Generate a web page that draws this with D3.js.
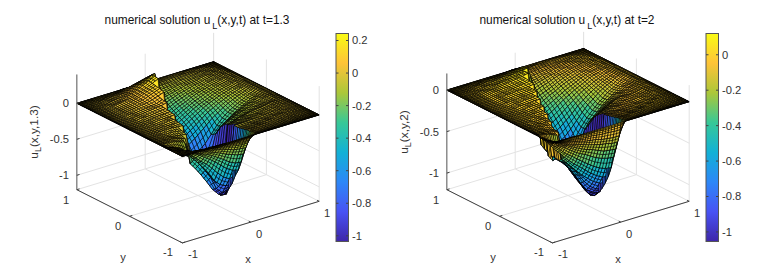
<!DOCTYPE html>
<html>
<head>
<meta charset="utf-8">
<script src="https://cdn.jsdelivr.net/npm/d3@7"></script>
<style>
html,body{margin:0;padding:0;background:#fff;}
text{font-family:"Liberation Sans",Arial,sans-serif;}
</style>
</head>
<body>
<svg id="chart" width="775" height="270"></svg>
<script>
// mesh nodes, shared by x and y
var nodes=[-1,-.996,-.985,-.966,-.94,-.906,-.866,-.819,-.766,-.707,-.643,-.574,-.5,-.423,-.342,-.259,-.174,-.087,0,.087,.174,.259,.342,.423,.5,.574,.643,.707,.766,.819,.866,.906,.94,.966,.985,.996,1];

// surface heights x100. one row per y node, trailing zeros left out
var heightsA=[
[],
[0,0,0,0,0,0,0,0,0,0,0,0,0,0,-1,-1,-1,-1,-1],
[0,0,0,0,0,0,0,0,0,0,0,0,-1,-2,-2,-2,-3,-3,-3],
[0,0,0,0,0,0,0,0,-1,-1,-2,-2,-3,-4,-4,-5,-6,-7,-7],
[0,0,0,0,0,0,-1,-1,-2,-2,-3,-4,-5,-6,-8,-9,-11,-12,-12],
[0,0,0,0,0,-1,-1,-2,-3,-4,-5,-7,-9,-10,-13,-15,-18,-19,-20],
[0,0,0,0,-1,-1,-2,-3,-5,-6,-8,-10,-13,-16,-19,-23,-26,-29,-30,-1],
[0,0,0,0,-1,-2,-3,-4,-6,-9,-12,-15,-18,-22,-27,-32,-38,-42,-43,-1,-1],
[0,0,0,-1,-1,-2,-4,-6,-8,-11,-15,-19,-24,-29,-35,-42,-49,-54,-56,-2,-2,-1,-1],
[0,0,0,-1,-1,-2,-4,-6,-9,-14,-19,-25,-32,-38,-46,-55,-63,-68,-66,-3,-3,-2,-2,-1,-1],
[0,0,0,-1,-2,-3,-4,-6,-8,-12,-20,-28,-36,-45,-55,-68,-76,-80,-80,-4,-4,-3,-3,-2,-2,-1,-1,-1],
[0,0,0,0,0,0,-1,-1,-2,-4,-6,-26,-34,-43,-54,-66,-84,-92,-90,-4,-4,-4,-3,-3,-2,-2,-1,-1,-1],
[0,0,0,0,0,0,0,-1,-1,-2,-4,-6,-43,-52,-63,-75,-88,-97,-100,-90,-7,-6,-5,-4,-3,-3,-2,-1,-1,-1],
[0,0,0,0,0,0,0,-1,-1,-2,-3,-4,-5,-42,-50,-58,-71,-87,-104,-105,-10,-8,-7,-6,-5,-4,-3,-2,-1,-1,-1],
[0,0,0,0,0,0,0,0,-1,-1,-1,-2,-3,-37,-45,-55,-67,-79,-97,-104,-14,-12,-9,-8,-6,-5,-4,-3,-2,-1,-1,-1],
[0,0,0,0,0,0,0,0,0,0,0,0,-1,-1,-43,-52,-62,-74,-86,-100,-95,-18,-15,-12,-10,-8,-6,-5,-4,-3,-2,-1,-1],
[0,0,0,0,0,0,0,0,0,0,0,0,0,0,-42,-50,-60,-69,-81,-95,-93,-22,-18,-15,-12,-10,-8,-6,-5,-3,-2,-1,-1,-1],
[0,0,0,0,0,0,0,0,0,0,0,0,1,1,-42,-50,-58,-66,-76,-88,-85,-29,-24,-20,-16,-13,-10,-8,-6,-4,-3,-2,-1,-1],
[0,0,0,0,0,0,0,0,0,0,0,1,1,1,2,-48,-56,-64,-72,-76,-74,-42,-34,-28,-22,-18,-14,-11,-8,-6,-4,-2,-1,-1],
[0,0,0,0,0,0,0,0,0,0,0,1,2,2,3,-52,-60,-66,-68,-63,-56,-46,-36,-28,-22,-18,-14,-11,-8,-6,-4,-2,-1,-1],
[0,0,0,0,0,0,0,0,0,1,1,1,2,3,4,-56,-62,-62,-56,-50,-43,-36,-29,-24,-19,-15,-12,-9,-7,-5,-3,-2,-1,-1],
[0,0,0,0,0,0,0,0,0,1,1,2,3,4,5,7,-58,-54,-48,-42,-36,-30,-24,-20,-16,-13,-10,-8,-6,-4,-3,-2,-1,-1],
[0,0,0,0,0,0,0,0,1,1,1,2,3,4,5,8,-52,-48,-42,-37,-31,-26,-21,-17,-14,-11,-9,-7,-5,-4,-3,-2,-1,-1],
[0,0,0,0,0,0,0,0,1,1,2,3,4,5,7,10,13,-42,-38,-33,-28,-23,-19,-16,-13,-10,-8,-6,-5,-3,-2,-2,-1],
[0,0,0,0,0,0,0,0,1,1,2,3,5,6,9,12,15,-37,-34,-30,-25,-21,-17,-14,-11,-9,-7,-5,-4,-3,-2,-1,-1],
[0,0,0,0,0,0,0,0,1,1,2,3,5,7,10,13,16,-33,-30,-26,-22,-19,-15,-12,-10,-8,-6,-5,-3,-2,-2,-1,-1],
[0,0,0,0,0,0,0,0,1,2,3,4,5,7,10,13,17,21,-26,-23,-19,-16,-13,-11,-9,-7,-5,-4,-3,-2,-1,-1],
[0,0,0,0,0,0,0,0,1,1,2,3,5,7,10,14,18,22,-21,-19,-16,-13,-11,-9,-7,-6,-4,-3,-2,-2,-1,-1],
[0,0,0,0,0,0,0,0,0,1,2,3,4,6,9,13,16,21,-17,-15,-13,-11,-9,-7,-6,-5,-3,-2,-2,-1,-1],
[0,0,0,0,0,0,0,0,0,1,1,2,4,5,8,11,14,17,19,-12,-11,-9,-7,-6,-5,-4,-3,-2,-1,-1,-1],
[0,0,0,0,0,0,0,0,0,1,1,2,3,4,6,9,11,14,16,-9,-8,-7,-6,-4,-4,-3,-2,-1,-1,-1],
[0,0,0,0,0,0,0,0,0,0,1,1,2,3,5,7,9,11,12,-6,-5,-5,-4,-3,-2,-2,-1,-1,-1],
[0,0,0,0,0,0,0,0,0,0,0,1,1,2,3,4,6,7,8,-4,-3,-3,-2,-2,-1,-1,-1],
[0,0,0,0,0,0,0,0,0,0,0,0,1,1,2,2,3,4,5,-2,-2,-2,-1,-1,-1],
[0,0,0,0,0,0,0,0,0,0,0,0,0,0,1,1,1,2,2,-1,-1,-1],
[0,0,0,0,0,0,0,0,0,0,0,0,0,0,0,0,0,1,1],
[]
];

var heightsB=[
[],
[0,0,0,0,0,0,0,0,0,0,-1,-1,-2,-2,-2,-3,-3,-3,-3],
[0,0,0,0,0,-1,-1,-2,-3,-3,-4,-5,-6,-6,-7,-8,-8,-9,-9],
[0,0,0,-1,-1,-2,-3,-4,-5,-6,-8,-9,-11,-12,-13,-15,-16,-17,-17],
[0,0,0,-1,-2,-3,-4,-6,-8,-10,-12,-14,-16,-18,-20,-22,-23,-25,-25],
[0,0,-1,-1,-2,-4,-6,-8,-11,-13,-16,-19,-22,-25,-27,-30,-33,-34,-35,-1],
[0,0,-1,-2,-3,-5,-7,-11,-14,-17,-21,-25,-29,-32,-36,-40,-43,-45,-46,-1,-1],
[0,-1,-1,-2,-4,-7,-10,-14,-18,-23,-28,-32,-37,-42,-47,-52,-56,-59,-60,-2,-2,-1,-1],
[0,-1,-1,-3,-5,-8,-12,-17,-22,-27,-33,-39,-45,-50,-56,-62,-67,-71,-72,-3,-3,-2,-2,-1,-1],
[0,0,0,-1,-1,-1,-2,-3,-5,-7,-37,-43,-50,-57,-64,-70,-76,-80,-82,-4,-4,-3,-3,-2,-2,-1,-1],
[0,0,0,-1,-1,-1,-2,-2,-4,-5,-7,-40,-48,-56,-66,-76,-84,-89,-91,-5,-5,-4,-4,-3,-2,-2,-1,-1,-1],
[0,0,0,0,-1,-1,-1,-2,-3,-4,-6,-45,-49,-58,-68,-80,-90,-95,-98,-6,-7,-6,-5,-4,-3,-3,-2,-1,-1,-1],
[0,0,0,0,0,-1,-1,-1,-2,-2,-3,-44,-46,-52,-63,-76,-88,-99,-104,-101,-9,-8,-6,-5,-4,-3,-2,-2,-1,-1],
[0,0,0,0,0,0,-1,-1,-1,-2,-2,-3,-45,-52,-62,-72,-83,-97,-106,-106,-12,-10,-8,-7,-5,-4,-3,-2,-2,-1,-1],
[0,0,0,0,0,0,0,0,-1,-1,-1,-2,-50,-52,-54,-66,-80,-91,-104,-104,-16,-13,-11,-9,-7,-5,-4,-3,-2,-1,-1,-1],
[0,0,0,0,0,0,0,0,0,0,-1,-1,-1,-59,-57,-63,-77,-89,-100,-100,-21,-18,-15,-12,-9,-7,-6,-4,-3,-2,-1,-1],
[0,0,0,0,0,0,0,0,0,0,0,0,0,-56,-60,-64,-72,-83,-94,-94,-30,-26,-22,-17,-14,-11,-8,-6,-4,-3,-2,-1,-1],
[0,0,0,0,0,0,0,0,0,0,0,0,1,1,-58,-62,-70,-80,-88,-87,-43,-36,-30,-24,-19,-15,-11,-9,-6,-4,-3,-2,-1,-1],
[0,0,0,0,0,0,0,0,0,0,0,1,1,1,-55,-64,-72,-78,-82,-78,-62,-46,-37,-30,-24,-19,-15,-11,-8,-6,-4,-2,-1,-1],
[0,0,0,0,0,0,0,0,0,0,1,1,1,2,2,-62,-68,-72,-73,-68,-58,-47,-38,-31,-25,-20,-15,-12,-9,-6,-4,-2,-1,-1],
[0,0,0,0,0,0,0,0,0,0,1,1,2,2,3,-58,-62,-64,-62,-57,-50,-42,-34,-27,-22,-17,-13,-10,-8,-5,-3,-2,-1,-1],
[0,0,0,0,0,0,0,0,0,1,1,1,2,2,3,4,-55,-56,-53,-48,-42,-36,-29,-24,-19,-15,-12,-9,-7,-5,-3,-2,-1,-1],
[0,0,0,0,0,0,0,0,0,1,1,1,2,2,3,4,-50,-49,-46,-41,-36,-30,-25,-20,-16,-13,-10,-8,-6,-4,-3,-2,-1,-1],
[0,0,0,0,0,0,0,0,0,1,1,2,2,3,3,4,5,-43,-39,-35,-30,-25,-21,-17,-14,-11,-8,-6,-5,-3,-2,-2,-1],
[0,0,0,0,0,0,0,0,0,1,1,2,2,3,4,5,6,-38,-34,-30,-26,-22,-18,-15,-12,-9,-7,-5,-4,-3,-2,-1,-1],
[0,0,0,0,0,0,0,0,0,1,2,2,3,3,4,5,7,-33,-30,-26,-22,-19,-15,-12,-10,-8,-6,-5,-3,-2,-2,-1,-1],
[0,0,0,0,0,0,0,0,0,1,2,2,3,4,5,6,7,9,-26,-22,-19,-16,-13,-10,-8,-6,-5,-4,-3,-2,-1,-1],
[0,0,0,0,0,0,0,0,0,1,1,2,3,4,5,6,7,9,-21,-18,-15,-13,-10,-8,-7,-5,-4,-3,-2,-2,-1,-1],
[0,0,0,0,0,0,0,0,0,0,1,2,2,3,4,6,7,8,9,-14,-12,-10,-8,-7,-5,-4,-3,-2,-2,-1,-1],
[0,0,0,0,0,0,0,0,0,0,1,1,2,3,4,5,6,7,8,-11,-10,-8,-7,-5,-4,-3,-2,-2,-1,-1],
[0,0,0,0,0,0,0,0,0,0,1,1,2,2,3,4,5,6,7,-8,-7,-6,-5,-4,-3,-2,-2,-1,-1],
[0,0,0,0,0,0,0,0,0,0,0,1,1,2,2,3,4,4,5,-6,-5,-4,-3,-3,-2,-2,-1,-1],
[0,0,0,0,0,0,0,0,0,0,0,0,1,1,1,2,2,3,3,-4,-3,-3,-2,-2,-1,-1],
[0,0,0,0,0,0,0,0,0,0,0,0,0,0,1,1,1,2,2,-2,-2,-1,-1,-1],
[0,0,0,0,0,0,0,0,0,0,0,0,0,0,0,0,0,1,1,-1,-1,-1],
[],
[]
];

// axes
var xyTicks=[-1,0,1];
var zTicksA=[-1,-.5,0];
var zTicksB=[-1,-.5,0];
var barTicksA=[.2,0,-.2,-.4,-.6,-.8,-1];
var barTicksB=[0,-.2,-.4,-.6,-.8,-1];
var parula=["#3e26a8","#4852f4","#2d87f7","#12b1d6","#37c897","#abc739","#fec338","#f9fb14"];

var svg=d3.select("#chart");
var defs=svg.append("defs");
var grad=defs.append("linearGradient").attr("id","parula").attr("x1",0).attr("x2",0).attr("y1",1).attr("y2",0);
parula.forEach(function(c,i) {grad.append("stop").attr("offset",i/(parula.length-1)).attr("stop-color",c);});

function panel(o) {
	var g=svg.append("g");
	var heights=o.heights.map(function(r) {return nodes.map(function(n,i) {return (r[i]||0)/100;});});

	// oblique view: the three axes each shift the picture by their own scale
	var xToPx=d3.scaleLinear().domain([-1,1]).range([-68.4,68.4]);
	var xToPy=d3.scaleLinear().domain([-1,1]).range([20.8,-20.8]);
	var yToPx=d3.scaleLinear().domain([-1,1]).range([52.8,-52.8]);
	var yToPy=d3.scaleLinear().domain([-1,1]).range([26.6,-26.6]);
	var zToPy=d3.scaleLinear().domain(o.zDomain).range(o.zRange);
	function P(x,y,z) {return [o.cx+xToPx(x)+yToPx(y),xToPy(x)+yToPy(y)+zToPy(z)];}
	function depth(x,y,z) {return 3816*x+4896*y-2949*z;}
	function line3(a,b,col,w) {
		var p=P.apply(null,a),q=P.apply(null,b);
		g.append("line").attr("x1",p[0]).attr("y1",p[1]).attr("x2",q[0]).attr("y2",q[1])
			.style("stroke",col).style("stroke-width",w);
	}

	var z0=o.zDomain[0],z1=o.zDomain[1];
	var grid="#e3e3e3";

	// back walls and floor
	xyTicks.forEach(function(t) {
		line3([t,1,z0],[t,1,z1],grid,1);
		line3([1,t,z0],[1,t,z1],grid,1);
		line3([t,-1,z0],[t,1,z0],grid,1);
		line3([-1,t,z0],[1,t,z0],grid,1);
	});
	o.zTicks.forEach(function(t) {
		line3([-1,1,t],[1,1,t],grid,1);
		line3([1,1,t],[1,-1,t],grid,1);
	});

	// surface, far quads first
	var quads=[];
	d3.range(nodes.length-1).forEach(function(j) {
		d3.range(nodes.length-1).forEach(function(i) {
			var c=[[i,j],[i+1,j],[i+1,j+1],[i,j+1]].map(function(k) {return [nodes[k[0]],nodes[k[1]],heights[k[1]][k[0]]];});
			quads.push({
				pts:c,
				v:heights[j][i],
				d:d3.mean(c,function(p) {return depth(p[0],p[1],p[2]);})
			});
		});
	});
	quads.sort(function(a,b) {return b.d-a.d;});

	var color=d3.scaleLinear()
		.domain(parula.map(function(c,i) {return o.clim[0]+(o.clim[1]-o.clim[0])*i/(parula.length-1);}))
		.range(parula).clamp(true);

	// the reference mesh is finer than the nodes read here, so each face gets its cross lines too
	function quadPath(q) {
		var s=q.pts.map(function(p) {return P(p[0],p[1],p[2]);});
		function mid(a,b) {return [(s[a][0]+s[b][0])/2,(s[a][1]+s[b][1])/2].join(",");}
		var d="M"+s.map(function(p) {return p.join(",");}).join("L")+"Z";
		d+="M"+mid(0,3)+"L"+mid(1,2);
		if(Math.abs(q.pts[0][2]-q.pts[1][2])<.25) {d+="M"+mid(0,1)+"L"+mid(3,2);}
		return d;
	}

	g.selectAll(".quad").data(quads).enter().append("path")
		.attr("d",quadPath)
		.style("fill",function(q) {return color(q.v);})
		.style("stroke","#000")
		.style("stroke-width",.7);

	// dark axes
	var ax="#404040";
	line3([-1,1,z0],[-1,1,z1],"#777",1.2);
	line3([-1,1,z0],[-1,-1,z0],ax,1);
	line3([-1,-1,z0],[1,-1,z0],ax,1);
	xyTicks.forEach(function(t) {
		line3([t,-1,z0],[t,-.96,z0],ax,1);
		line3([-1,t,z0],[-.96,t,z0],ax,1);
	});
	o.zTicks.forEach(function(t) {line3([-1,1,t],[-.96,1,t],ax,1);});

	function label(x,y,s,anchor) {
		return g.append("text").attr("x",x).attr("y",y).attr("text-anchor",anchor||"middle")
			.style("font-size","11.2px").style("fill","#333").text(s);
	}

	// tick labels
	o.zTicks.forEach(function(t) {label(o.zLabelX,zToPy(t)+xToPy(-1)+yToPy(1)+4,t==0?"0":String(t),"end");});
	xyTicks.forEach(function(t,i) {
		label(o.xTickX[i],o.xTickY[i],String(t));
		label(o.yTickX[i],o.yTickY[i],String(t));
	});
	label(o.xName[0],o.xName[1],"x");
	label(o.yName[0],o.yName[1],"y");

	// z label, L goes low
	var zl=g.append("text").attr("transform","translate("+o.zName[0]+","+o.zName[1]+") rotate(-90)")
		.attr("text-anchor","middle").style("font-size","11.8px").style("fill","#333");
	zl.append("tspan").text("u");
	zl.append("tspan").attr("dy",3).style("font-size","9px").text("L");
	zl.append("tspan").attr("dy",-3).text(o.zText);

	// title
	var tt=g.append("text").attr("x",o.titleX).attr("y",24).attr("text-anchor","middle")
		.style("font-size","11.9px").style("fill","#111");
	tt.append("tspan").text("numerical solution u");
	tt.append("tspan").attr("dx",2).attr("dy",5).style("font-size","9px").text("L");
	tt.append("tspan").attr("dy",-5).text(o.titleEnd);

	// colorbar
	var barY=d3.scaleLinear().domain(o.clim).range([241.5,33.5]);
	g.append("rect").attr("x",o.barX).attr("y",33.5).attr("width",12.5).attr("height",208)
		.style("fill","url(#parula)").style("stroke","#555").style("stroke-width",1);
	o.barTicks.forEach(function(t) {
		var y=barY(t);
		g.append("line").attr("x1",o.barX).attr("x2",o.barX+2.5).attr("y1",y).attr("y2",y).style("stroke","#444");
		g.append("line").attr("x1",o.barX+10).attr("x2",o.barX+12.5).attr("y1",y).attr("y2",y).style("stroke","#444");
		label(o.barX+16,y+4,t==0?"0":String(t),"start");
	});
}

panel({heights:heightsA,cx:198,zDomain:[-1.2,.4],zRange:[195.5,80.3],zTicks:zTicksA,clim:[-1.035,.243],
	zLabelX:69,xTickX:[193,259,327],xTickY:[258,238,217],yTickX:[168,118,66],yTickY:[256,230,204],
	xName:[248,263],yName:[123,261],zName:[38,132],zText:"(x,y,1.3)",
	titleX:197,titleEnd:"(x,y,t) at t=1.3",barX:336,barTicks:barTicksA});

panel({heights:heightsB,cx:568,zDomain:[-1.2,.2],zRange:[195.5,79.3],zTicks:zTicksB,clim:[-1.054,.12],
	zLabelX:439,xTickX:[563,629,697],xTickY:[258,238,217],yTickX:[539,488,436],yTickY:[256,230,204],
	xName:[618,263],yName:[493,261],zName:[408,132],zText:"(x,y,2)",
	titleX:567,titleEnd:"(x,y,t) at t=2",barX:706,barTicks:barTicksB});
</script>
</body>
</html>
